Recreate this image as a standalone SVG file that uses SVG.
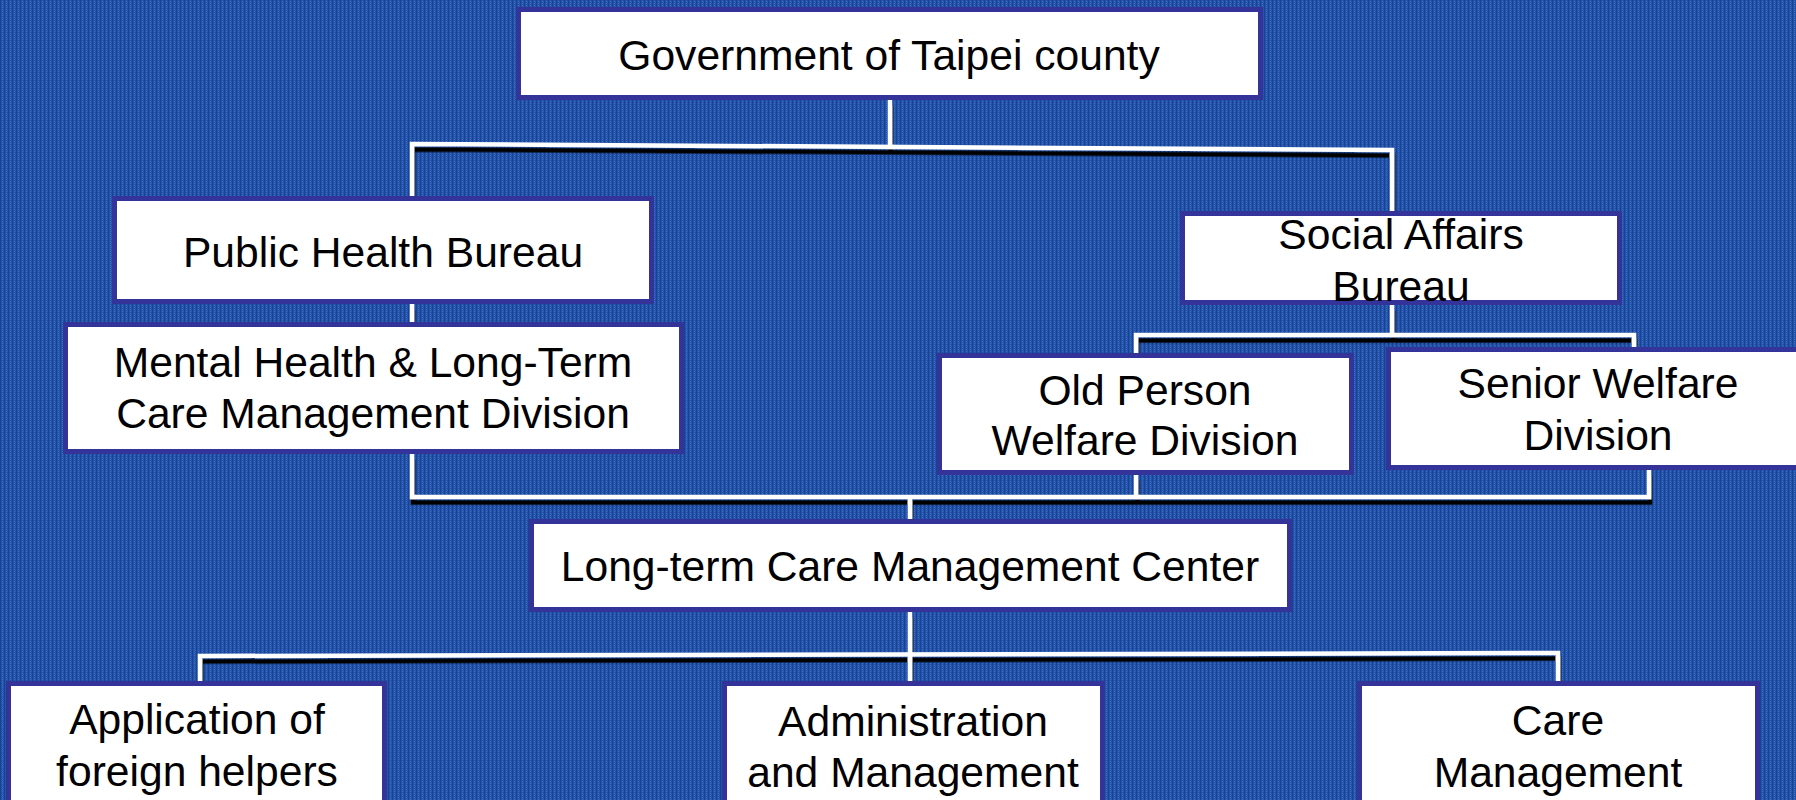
<svg xmlns="http://www.w3.org/2000/svg" width="1796" height="800" viewBox="0 0 1796 800">
  <defs>
    <pattern id="bg" width="4" height="4" patternUnits="userSpaceOnUse">
      <rect width="4" height="4" fill="#2253a8"/>
      <rect x="0" y="0" width="1" height="4" fill="#1a428f"/>
      <rect x="2" y="1" width="1" height="1" fill="#3d6fcc"/>
      <rect x="2" y="3" width="1" height="1" fill="#3d6fcc"/>
      <rect x="3" y="2" width="1" height="1" fill="#2a5cb6"/>
    </pattern>
    <filter id="shadow" x="-5%" y="-20%" width="110%" height="140%">
      <feDropShadow dx="1" dy="5.5" stdDeviation="0.2" flood-color="#000" flood-opacity="1"/>
    </filter>
  </defs>
  <style>
    .box { fill: #ffffff; stroke: #333399; stroke-width: 5; }
    .lbl { font-family: "Liberation Sans", Arial, sans-serif; font-size: 42.6px; fill: #000; text-anchor: middle; }
    .conn { fill: none; stroke: #ffffff; stroke-width: 4.5; stroke-linejoin: miter; stroke-linecap: butt; }
  </style>
  <rect width="1796" height="800" fill="url(#bg)"/>

  <g id="connectors" filter="url(#shadow)">
    <path class="conn" d="M890,100 V145"/>
    <path class="conn" d="M412,198 V144 L1392,150 V213"/>
    <path class="conn" d="M412,304 V324"/>
    <path class="conn" d="M412,454 V497 H1649 V470"/>
    <path class="conn" d="M1136,475 V497"/>
    <path class="conn" d="M910,497 V521"/>
    <path class="conn" d="M1392,305 V335"/>
    <path class="conn" d="M1136,355 V335 H1634 V349"/>
    <path class="conn" d="M910,612 V683"/>
    <path class="conn" d="M200,683 V656 L1558,653 V683"/>
  </g>

  <g id="gov">
    <rect class="box" x="518.5" y="9.5" width="742" height="88"/>
    <text class="lbl" x="889" y="70">Government of Taipei county</text>
  </g>
  <g id="public-health">
    <rect class="box" x="114.5" y="198.5" width="537" height="103"/>
    <text class="lbl" x="383" y="267">Public Health Bureau</text>
  </g>
  <g id="mental-health">
    <rect class="box" x="65.5" y="324.5" width="616" height="127"/>
    <text class="lbl" x="373" y="377">Mental Health &amp; Long-Term</text>
    <text class="lbl" x="373" y="428">Care Management Division</text>
  </g>
  <g id="social-affairs">
    <rect class="box" x="1182.5" y="213.5" width="437" height="89"/>
    <text class="lbl" x="1401" y="249">Social Affairs</text>
    <text class="lbl" x="1401" y="301">Bureau</text>
  </g>
  <g id="old-person">
    <rect class="box" x="939.5" y="355.5" width="412" height="117"/>
    <text class="lbl" x="1145" y="405">Old Person</text>
    <text class="lbl" x="1145" y="455">Welfare Division</text>
  </g>
  <g id="senior-welfare">
    <rect class="box" x="1388.5" y="349.5" width="420" height="118"/>
    <text class="lbl" x="1598" y="398">Senior Welfare</text>
    <text class="lbl" x="1598" y="450">Division</text>
  </g>
  <g id="ltc-center">
    <rect class="box" x="531.5" y="521.5" width="758" height="88"/>
    <text class="lbl" x="910" y="581">Long-term Care Management Center</text>
  </g>
  <g id="foreign-helpers">
    <rect class="box" x="8.5" y="683.5" width="376" height="140"/>
    <text class="lbl" x="197" y="734">Application of</text>
    <text class="lbl" x="197" y="786">foreign helpers</text>
  </g>
  <g id="administration">
    <rect class="box" x="724.5" y="683.5" width="378" height="140"/>
    <text class="lbl" x="913" y="736">Administration</text>
    <text class="lbl" x="913" y="787">and Management</text>
  </g>
  <g id="care-management">
    <rect class="box" x="1359.5" y="683.5" width="398" height="140"/>
    <text class="lbl" x="1558" y="735">Care</text>
    <text class="lbl" x="1558" y="787">Management</text>
  </g>
</svg>
